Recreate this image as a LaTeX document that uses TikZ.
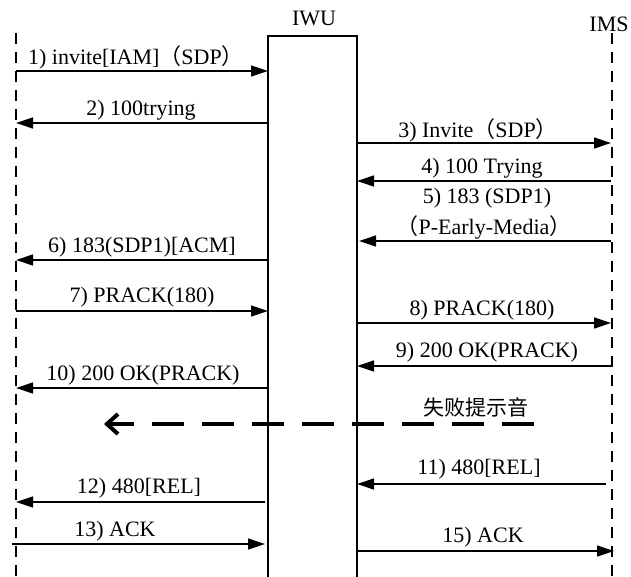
\documentclass[tikz,border=0pt]{standalone}
\usepackage{fontspec}
\setmainfont{Liberation Serif}
\newfontfamily\cjk{Noto Sans CJK SC}
\usetikzlibrary{arrows.meta}
\newcommand{\fp}[1]{{\cjk #1}}
\begin{document}
\begin{tikzpicture}[x=1pt,y=-1pt,
  lbl/.style={inner sep=0pt,font=\fontsize{22}{26}\selectfont},
  msg/.style={line width=1.3pt,-{Triangle[length=17pt,width=11pt]}},
  life/.style={line width=1.3pt,dash pattern=on 11pt off 8pt},
  bigdash/.style={line width=4pt,dash pattern=on 32pt off 18pt,-{Straight Barb[length=11pt,width=20pt]}}]
\useasboundingbox (0,0) rectangle (631,577);
% participants
\node[lbl] (iwu) at (314,18) {IWU};
\node[lbl] (ims) at (609,24) {IMS};
\draw[line width=1.3pt] (268,590) -- (268,36) -- (357,36) -- (357,590);
\coordinate (ltop) at (16,33);
\coordinate (lbot) at (16,590);
\coordinate (rtop) at (612,33);
\coordinate (rbot) at (612,590);
\draw[life] (ltop) -- (lbot);
\draw[life] (rtop) -- (rbot);
% message end points
\coordinate (a1) at (16,71);  \coordinate (b1) at (268,71);
\coordinate (a2) at (268,123); \coordinate (b2) at (16,123);
\coordinate (a3) at (357,143); \coordinate (b3) at (611,143);
\coordinate (a4) at (611,181); \coordinate (b4) at (357,181);
\coordinate (a5) at (611,241); \coordinate (b5) at (359,241);
\coordinate (a6) at (268,260); \coordinate (b6) at (16,260);
\coordinate (a7) at (16,311);  \coordinate (b7) at (268,311);
\coordinate (a8) at (357,323); \coordinate (b8) at (611,323);
\coordinate (a9) at (611,366); \coordinate (b9) at (357,366);
\coordinate (a10) at (268,388); \coordinate (b10) at (16,388);
\coordinate (sa) at (534,424); \coordinate (sb) at (104,424);
\coordinate (a11) at (606,484); \coordinate (b11) at (357,484);
\coordinate (a12) at (265,502); \coordinate (b12) at (16,502);
\coordinate (a13) at (12,544); \coordinate (b13) at (265,544);
\coordinate (a15) at (357,551); \coordinate (b15) at (614,551);
% arrows
\draw[msg] (a1) -- (b1);
\draw[msg] (a2) -- (b2);
\draw[msg] (a3) -- (b3);
\draw[msg] (a4) -- (b4);
\draw[msg] (a5) -- (b5);
\draw[msg] (a6) -- (b6);
\draw[msg] (a7) -- (b7);
\draw[msg] (a8) -- (b8);
\draw[msg] (a9) -- (b9);
\draw[msg] (a10) -- (b10);
\draw[bigdash] (sa) -- (sb);
\draw[msg] (a11) -- (b11);
\draw[msg] (a12) -- (b12);
\draw[msg] (a13) -- (b13);
\draw[msg] (a15) -- (b15);
% labels
\node[lbl] (t1) at (136,57) {1) invite[IAM]\fp{（}SDP\fp{）}};
\node[lbl] (t2) at (141,110) {2) 100trying};
\node[lbl] (t3) at (478,130) {3) Invite\fp{（}SDP\fp{）}};
\node[lbl] (t4) at (482,168) {4) 100 Trying};
\node[lbl] (t5a) at (487,198) {5) 183 (SDP1)};
\node[lbl] (t5b) at (484,227) {\fp{（}P-Early-Media\fp{）}};
\node[lbl] (t6) at (142,247) {6) 183(SDP1)[ACM]};
\node[lbl] (t7) at (142,297) {7) PRACK(180)};
\node[lbl] (t8) at (482,310) {8) PRACK(180)};
\node[lbl] (t9) at (487,352) {9) 200 OK(PRACK)};
\node[lbl] (t10) at (143,375) {10) 200 OK(PRACK)};
\node[lbl,font=\cjk\fontsize{21}{24}\selectfont] (ts) at (476,407) {失败提示音};
\node[lbl] (t11) at (479,469) {11) 480[REL]};
\node[lbl] (t12) at (139,488) {12) 480[REL]};
\node[lbl] (t13) at (115,531) {13) ACK};
\node[lbl] (t15) at (483,537) {15) ACK};
\end{tikzpicture}
\end{document}
